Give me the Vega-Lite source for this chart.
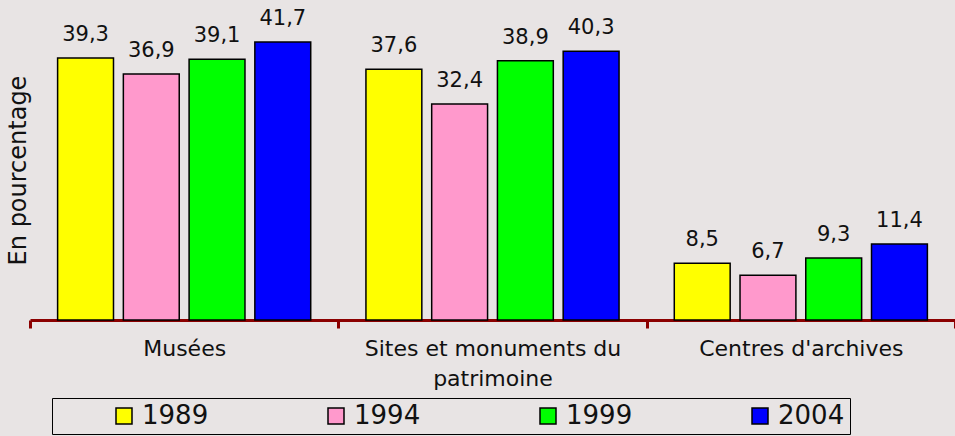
{
  "$schema": "https://vega.github.io/schema/vega-lite/v6.json",
  "width": 925,
  "height": 300,
  "autosize": {"type": "none"},
  "padding": {"left": 30, "top": 20, "right": 0, "bottom": 116},
  "background": "#e8e4e4",
  "config": {
    "view": {"stroke": null},
    "font": "DejaVu Sans",
    "locale": {"number": {"decimal": ",", "thousands": " ", "grouping": [3], "currency": ["", " €"]}}
  },
  "data": {
    "values": [
      {"categorie": "Musées", "annee": "1989", "valeur": 39.3},
      {"categorie": "Musées", "annee": "1994", "valeur": 36.9},
      {"categorie": "Musées", "annee": "1999", "valeur": 39.1},
      {"categorie": "Musées", "annee": "2004", "valeur": 41.7},
      {"categorie": "Sites et monuments du patrimoine", "annee": "1989", "valeur": 37.6},
      {"categorie": "Sites et monuments du patrimoine", "annee": "1994", "valeur": 32.4},
      {"categorie": "Sites et monuments du patrimoine", "annee": "1999", "valeur": 38.9},
      {"categorie": "Sites et monuments du patrimoine", "annee": "2004", "valeur": 40.3},
      {"categorie": "Centres d'archives", "annee": "1989", "valeur": 8.5},
      {"categorie": "Centres d'archives", "annee": "1994", "valeur": 6.7},
      {"categorie": "Centres d'archives", "annee": "1999", "valeur": 9.3},
      {"categorie": "Centres d'archives", "annee": "2004", "valeur": 11.4}
    ]
  },
  "encoding": {
    "x": {
      "field": "categorie",
      "type": "nominal",
      "sort": null,
      "scale": {"paddingInner": 0, "paddingOuter": 0},
      "axis": {
        "title": null,
        "labelAngle": 0,
        "labelFont": "DejaVu Sans",
        "labelFontSize": 22,
        "labelColor": "#111111",
        "labelLineHeight": 30,
        "labelLimit": 400,
        "labelPadding": 10,
        "labelExpr": "datum.label == 'Sites et monuments du patrimoine' ? ['Sites et monuments du', 'patrimoine'] : datum.label",
        "domainColor": "#8b0000",
        "domainWidth": 3,
        "tickColor": "#8b0000",
        "tickWidth": 3,
        "tickSize": 8,
        "tickBand": "extent"
      }
    },
    "xOffset": {
      "field": "annee",
      "type": "nominal",
      "scale": {"paddingInner": 0.15, "paddingOuter": 0.42}
    },
    "y": {
      "field": "valeur",
      "type": "quantitative",
      "scale": {"domain": [0, 45]},
      "axis": {
        "title": "En pourcentage",
        "titleFont": "DejaVu Sans",
        "titleFontSize": 24,
        "titleFontWeight": "normal",
        "titleColor": "#111111",
        "titlePadding": 0,
        "labels": false,
        "ticks": false,
        "domain": false,
        "grid": false
      }
    }
  },
  "layer": [
    {
      "mark": {"type": "bar", "stroke": "black", "strokeWidth": 1.5},
      "encoding": {
        "color": {
          "field": "annee",
          "type": "nominal",
          "scale": {"domain": ["1989", "1994", "1999", "2004"], "range": ["#ffff00", "#ff99cc", "#00ff00", "#0000ff"]},
          "legend": {
            "title": null,
            "orient": "none",
            "legendX": 22,
            "legendY": 378,
            "direction": "horizontal",
            "columns": 4,
            "padding": 5,
            "strokeColor": "black",
            "symbolType": "square",
            "symbolSize": 256,
            "symbolOffset": 54,
            "labelFont": "DejaVu Sans",
            "labelFontSize": 26,
            "labelColor": "#111111",
            "labelOffset": 5,
            "columnPadding": 60,
            "labelExpr": "datum.label == '2004' ? datum.label + '\u2003\u2003\u2003\u2002' : datum.label",
            "encode": {
              "symbols": {
                "stroke": {"value": "black"},
                "strokeWidth": {"value": 1.5},
                "opacity": {"value": 1}
              }
            }
          }
        }
      }
    },
    {
      "mark": {"type": "text", "baseline": "bottom", "dy": -13, "fontSize": 21, "font": "DejaVu Sans", "color": "#111111"},
      "encoding": {
        "text": {"field": "valeur", "type": "quantitative", "format": ".1f"}
      }
    }
  ]
}
